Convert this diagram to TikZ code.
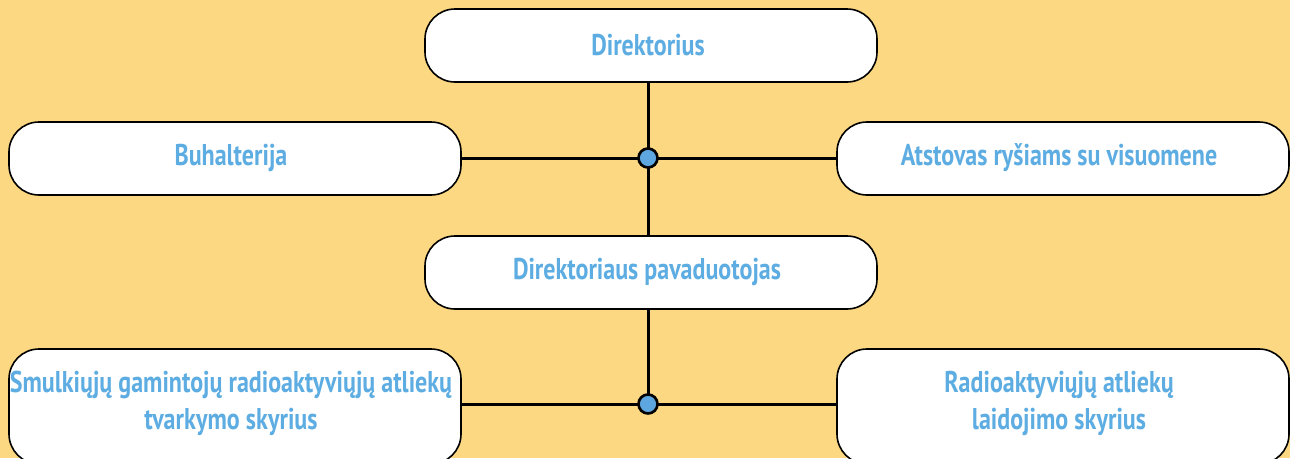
\documentclass[tikz,border=0pt]{standalone}
\usepackage{fontspec}
\setmainfont{PT Sans}[BoldFont={* Bold},FakeStretch=0.80]
\definecolor{bg}{HTML}{FDD882}
\definecolor{txt}{HTML}{5DADE2}
\definecolor{dot}{HTML}{5DA6E0}
\tikzset{
  box/.style={draw=black, line width=1.6pt, fill=white, rounded corners=30pt},
  lbl/.style={text=txt, font=\fontsize{30}{37}\selectfont\bfseries, align=center},
  conn/.style={line width=3pt, draw=black},
  junction/.style={circle, draw=black, line width=2.6pt, fill=dot, minimum size=19pt, inner sep=0pt}
}
\begin{document}
\begin{tikzpicture}[x=1pt,y=-1pt]
\fill[bg] (0,0) rectangle (1290,458);
\useasboundingbox (0,0) rectangle (1290,458);
\begin{scope}
\clip (0,0) rectangle (1290,458);
% connectors
\coordinate (j1) at (648,158);
\coordinate (j2) at (648,404);
\draw[conn] (648,82) -- (648,236);
\draw[conn] (461,158) -- (837,158);
\draw[conn] (648,309) -- (j2);
\draw[conn] (461,404) -- (837,404);
% boxes
\draw[box] (425,9) rectangle (877,82);
\node[lbl] (dir) at (648,45) {Direktorius};
\draw[box] (9,122) rectangle (461,195);
\node[lbl] (buh) at (231,158) {Buhalterija};
\draw[box] (837,122) rectangle (1289,195);
\node[lbl] (ats) at (1059,158) {Atstovas ryšiams su visuomene};
\draw[box] (425,236) rectangle (877,309);
\node[lbl] (pav) at (647,272) {Direktoriaus pavaduotojas};
\draw[box] (9,349) rectangle (461,464);
\node[lbl] (sml) at (231,403) {Smulkiųjų gamintojų radioaktyviųjų atliekų\\tvarkymo skyrius};
\draw[box] (837,349) rectangle (1289,464);
\node[lbl] (rad) at (1059,403) {Radioaktyviųjų atliekų\\laidojimo skyrius};
\node[junction] (c1) at (j1) {};
\node[junction] (c2) at (j2) {};
\end{scope}
\end{tikzpicture}
\end{document}
